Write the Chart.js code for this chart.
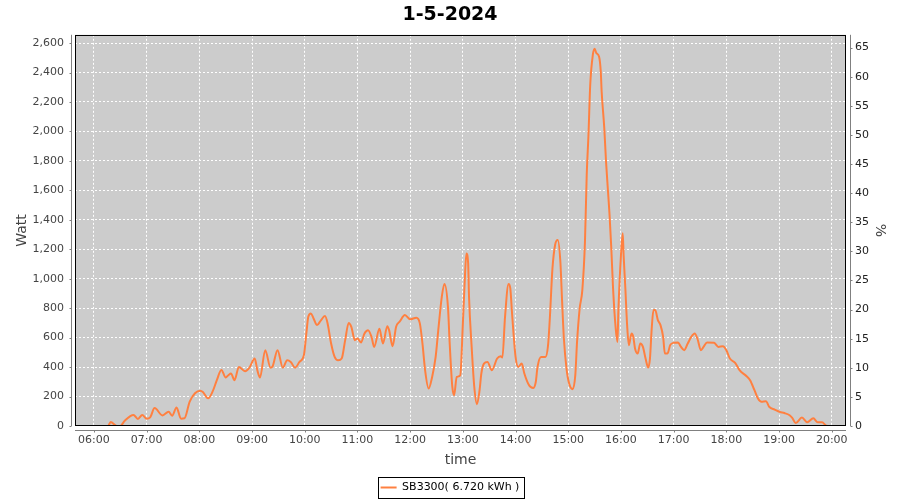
<!DOCTYPE html>
<html>
<head>
<meta charset="utf-8">
<script src="https://cdn.jsdelivr.net/npm/chart.js@4.4.1/dist/chart.umd.min.js"></script>
<style>
  html, body { margin: 0; padding: 0; background: #fff; }
</style>
</head>
<body>
<canvas id="chart" width="900" height="500"></canvas>
<script>
// readings of the SB3300 inverter on 1-5-2024
const times = [
  "05:53", "06:16", "06:19", "06:26", "06:30", "06:35", "06:45", "06:50", "06:55", "07:00",
  "07:04", "07:09", "07:18", "07:25", "07:29", "07:34", "07:39", "07:43", "07:49", "07:55",
  "08:01", "08:04", "08:10", "08:15", "08:20", "08:25", "08:30", "08:33", "08:36", "08:40",
  "08:45", "08:52", "08:57", "09:03", "09:06", "09:09", "09:15", "09:21", "09:23", "09:29",
  "09:35", "09:40", "09:44", "09:49", "09:54", "09:59", "10:02", "10:04", "10:07", "10:10",
  "10:14", "10:18", "10:23", "10:26", "10:30", "10:34", "10:38", "10:42", "10:46", "10:50",
  "10:53", "10:57", "11:00", "11:04", "11:08", "11:12", "11:16", "11:19", "11:25", "11:29",
  "11:34", "11:36", "11:40", "11:44", "11:48", "11:54", "12:00", "12:07", "12:11", "12:14",
  "12:17", "12:21", "12:25", "12:29", "12:32", "12:36", "12:39", "12:43", "12:45", "12:48",
  "12:50", "12:53", "12:57", "13:00", "13:02", "13:04", "13:06", "13:07", "13:10", "13:13",
  "13:16", "13:19", "13:21", "13:24", "13:28", "13:33", "13:39", "13:43", "13:45", "13:48",
  "13:52", "13:54", "13:56", "14:00", "14:03", "14:07", "14:10", "14:15", "14:20", "14:23",
  "14:25", "14:29", "14:34", "14:37", "14:39", "14:42", "14:45", "14:48", "14:51", "14:53",
  "14:55", "14:58", "15:01", "15:05", "15:08", "15:10", "15:13", "15:16", "15:19", "15:21",
  "15:23", "15:25", "15:28", "15:30", "15:32", "15:35", "15:37", "15:38", "15:41", "15:43",
  "15:45", "15:47", "15:49", "15:51", "15:54", "15:56", "15:57", "16:00", "16:02", "16:03",
  "16:05", "16:07", "16:09", "16:12", "16:14", "16:16", "16:19", "16:22", "16:25", "16:28",
  "16:31", "16:33", "16:35", "16:37", "16:39", "16:42", "16:45", "16:48", "16:50", "16:53",
  "16:56", "17:00", "17:05", "17:08", "17:12", "17:16", "17:20", "17:24", "17:27", "17:31",
  "17:34", "17:38", "17:46", "17:51", "17:56", "18:00", "18:04", "18:10", "18:15", "18:23",
  "18:27", "18:32", "18:36", "18:40", "18:45", "18:49", "18:55", "19:01", "19:06", "19:12",
  "19:15", "19:19", "19:26", "19:32", "19:39", "19:44", "19:49", "19:53", "19:55"
];
const watts = [
  0, 0, 27, 0, 0, 36, 75, 48, 75, 50,
  59, 122, 72, 97, 70, 125, 50, 52, 165, 222,
  240, 231, 188, 233, 313, 381, 329, 345, 356, 311,
  401, 372, 396, 458, 379, 329, 515, 396, 401, 515,
  396, 446, 435, 396, 435, 481, 640, 741, 764, 730,
  685, 714, 746, 696, 560, 469, 446, 458, 583, 700,
  673, 583, 594, 567, 628, 650, 605, 537, 660, 560,
  678, 651, 542, 674, 708, 753, 724, 735, 697, 560,
  379, 254, 333, 469, 651, 877, 964, 810, 560, 265,
  209, 333, 344, 697, 968, 1172, 1104, 877, 537, 265,
  148, 242, 356, 424, 435, 379, 458, 474, 465, 741,
  964, 934, 764, 469, 401, 424, 356, 280, 258, 299,
  401, 469, 469, 549, 730, 1070, 1229, 1263, 1115, 843,
  594, 390, 288, 250, 345, 571, 798, 923, 1251, 1704,
  1977, 2317, 2521, 2562, 2532, 2509, 2407, 2271, 2022, 1795,
  1614, 1433, 1206, 934, 662, 571, 775, 1161, 1308, 1161,
  934, 685, 549, 628, 605, 526, 492, 560, 537, 458,
  397, 458, 662, 787, 787, 719, 685, 605, 492, 492,
  549, 565, 567, 540, 515, 560, 605, 628, 594, 515,
  537, 567, 565, 537, 542, 515, 458, 429, 379, 338,
  311, 243, 186, 164, 168, 129, 111, 95, 88, 73,
  55, 20, 57, 25, 52, 25, 25, 5, 0
];
const hourTicks = [6, 7, 8, 9, 10, 11, 12, 13, 14, 15, 16, 17, 18, 19, 20];
const wattTicks = [0, 200, 400, 600, 800, 1000, 1200, 1400, 1600, 1800, 2000, 2200, 2400, 2600];
const percentTicks = [0, 5, 10, 15, 20, 25, 30, 35, 40, 45, 50, 55, 60, 65];

const lineColor = "#ff8040";
const font = "DejaVu Sans";

function toHours(t) {
  const [h, m] = t.split(":").map(Number);
  return h + m / 60;
}

const points = times.map((t, i) => ({ x: toHours(t), y: watts[i] }));

// gray plot background, black frame, offset gray axis lines and legend box
const framePlugin = {
  id: "frame",
  afterLayout(chart) {
    chart.legend.top += 3;
    chart.legend.bottom += 3;
  },
  beforeDraw(chart) {
    const { ctx, chartArea: a } = chart;
    ctx.save();
    ctx.fillStyle = "#fff";
    ctx.fillRect(0, 0, chart.width, chart.height);
    ctx.fillStyle = "#cccccc";
    ctx.fillRect(a.left, a.top, a.right - a.left, a.bottom - a.top);
    ctx.restore();
  },
  afterDraw(chart) {
    const { ctx, chartArea: a, scales } = chart;
    const seg = (x1, y1, x2, y2) => {
      ctx.beginPath();
      ctx.moveTo(x1, y1);
      ctx.lineTo(x2, y2);
      ctx.stroke();
    };
    ctx.save();
    ctx.lineWidth = 1;
    ctx.strokeStyle = "#000";
    ctx.strokeRect(Math.round(a.left) + 0.5, Math.round(a.top) + 0.5,
      Math.round(a.right - a.left) - 1, Math.round(a.bottom - a.top) - 1);

    ctx.strokeStyle = "#808080";
    const lx = Math.round(a.left) - 3.5;
    seg(lx, a.top, lx, a.bottom);
    wattTicks.forEach(v => {
      const y = Math.round(scales.y.getPixelForValue(v)) + 0.5;
      seg(lx - 2, y, lx, y);
    });
    const rx = Math.round(a.right) + 4.5;
    seg(rx, a.top, rx, a.bottom);
    percentTicks.forEach(v => {
      const y = Math.round(scales.y1.getPixelForValue(v)) + 0.5;
      seg(rx, y, rx + 2, y);
    });
    const by = Math.round(a.bottom) + 4.5;
    seg(a.left, by, a.right, by);
    hourTicks.forEach(v => {
      const x = Math.round(scales.x.getPixelForValue(v)) + 0.5;
      seg(x, by, x, by + 2);
    });

    const hb = chart.legend.legendHitBoxes[0];
    if (hb) {
      ctx.strokeStyle = "#000";
      ctx.strokeRect(Math.round(hb.left) - 2.5, Math.round(hb.top) - 4.5,
        Math.round(hb.width) + 7, 21);
    }
    ctx.restore();
  }
};

const tickFont = { family: font, size: 11 };
const titleFont = { family: font, size: 14 };

new Chart(document.getElementById("chart"), {
  type: "line",
  data: {
    datasets: [{
      label: "SB3300( 6.720 kWh )",
      data: points,
      borderColor: lineColor,
      backgroundColor: lineColor,
      borderWidth: 2,
      pointRadius: 0,
      fill: false,
      cubicInterpolationMode: "monotone",
      yAxisID: "y"
    }]
  },
  options: {
    responsive: false,
    animation: false,
    events: [],
    layout: { padding: 0 },
    plugins: {
      title: {
        display: true,
        text: "1-5-2024",
        color: "#000",
        font: { family: font, size: 19, weight: "bold" },
        padding: { top: 4, bottom: 8 }
      },
      legend: {
        position: "bottom",
        labels: {
          boxWidth: 16,
          boxHeight: 2,
          padding: 5,
          color: "#333",
          font: tickFont,
          generateLabels: chart => [{
            text: chart.data.datasets[0].label,
            fillStyle: lineColor,
            strokeStyle: lineColor,
            lineWidth: 0,
            datasetIndex: 0,
            hidden: false
          }]
        }
      },
      tooltip: { enabled: false }
    },
    scales: {
      x: {
        type: "linear",
        min: 5.64,
        max: 20.27,
        afterBuildTicks: s => { s.ticks = hourTicks.map(v => ({ value: v })); },
        afterFit: s => { s.height = 48; },
        ticks: {
          color: "#444",
          font: tickFont,
          padding: 8,
          maxRotation: 0,
          autoSkip: false,
          callback: v => String(v).padStart(2, "0") + ":00"
        },
        grid: { color: "#ffffff", lineWidth: 1, drawTicks: false },
        border: { display: false, dash: [2, 2] },
        title: { display: true, text: "time", color: "#444", font: titleFont, padding: { top: 0, bottom: 5 } }
      },
      y: {
        position: "left",
        min: 0,
        max: 2656,
        afterBuildTicks: s => { s.ticks = wattTicks.map(v => ({ value: v })); },
        afterFit: s => { s.width = 75; },
        ticks: {
          color: "#444",
          font: tickFont,
          padding: 11,
          callback: v => v.toLocaleString("en-US")
        },
        grid: { color: "#ffffff", lineWidth: 1, drawTicks: false },
        border: { display: false, dash: [2, 2] },
        title: { display: true, text: "Watt", color: "#444", font: titleFont, padding: { top: 14, bottom: 0 } }
      },
      y1: {
        position: "right",
        min: 0,
        max: 67.2,
        afterBuildTicks: s => { s.ticks = percentTicks.map(v => ({ value: v })); },
        afterFit: s => { s.width = 54; },
        ticks: {
          color: "#222",
          font: tickFont,
          padding: 9,
          callback: v => String(v)
        },
        grid: { drawOnChartArea: false, drawTicks: false },
        border: { display: false },
        title: { display: true, text: "%", color: "#444", font: titleFont, padding: { top: 12, bottom: 0 } }
      }
    }
  },
  plugins: [framePlugin]
});
</script>
</body>
</html>
